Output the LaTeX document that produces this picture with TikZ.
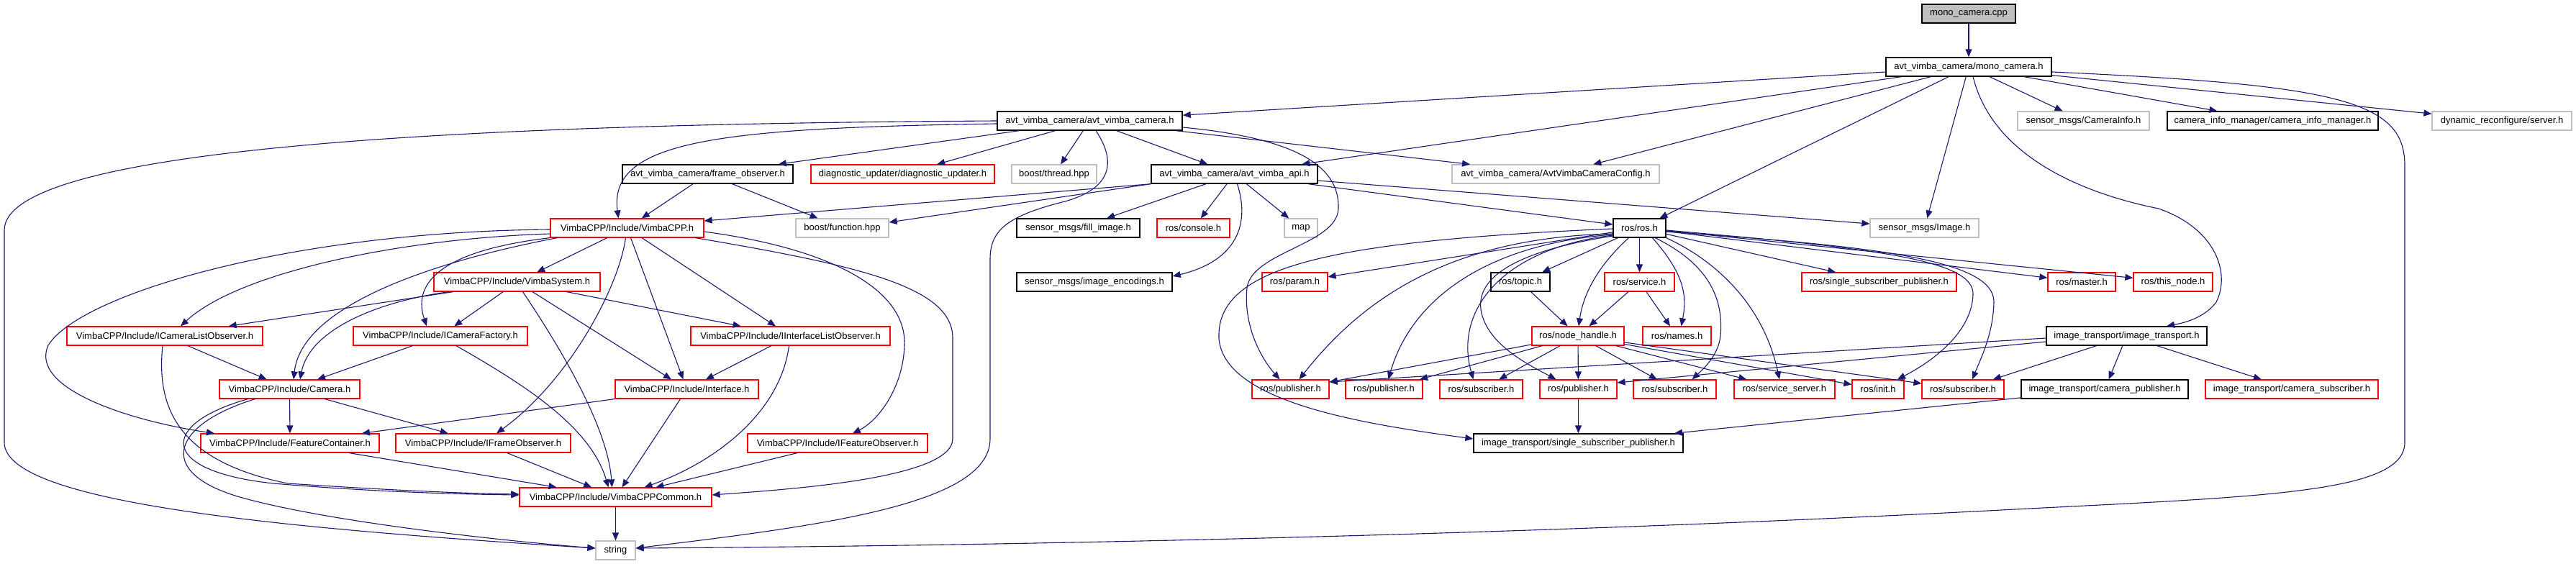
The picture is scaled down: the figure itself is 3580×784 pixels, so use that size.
\documentclass[tikz,border=0pt]{standalone}
\usepackage{fontspec}
\setmainfont{Liberation Sans}
\usetikzlibrary{arrows.meta}
\definecolor{edgec}{RGB}{25,25,112}
\definecolor{grayc}{RGB}{191,191,191}
\tikzset{
  box/.style={rectangle, minimum height=26pt, inner sep=0pt, line width=1.2pt, font=\fontsize{13}{15}\selectfont, text=black},
  bk/.style={box, draw=black, line width=1.4pt},
  rd/.style={box, draw=red},
  gr/.style={box, draw=grayc},
  e/.style={draw=edgec, line width=1.1pt, -{Triangle[length=11pt,width=9pt]}},
}
\begin{document}
\begin{tikzpicture}[x=1pt,y=-1pt]
\path[use as bounding box] (0,0) rectangle (3580,784);
% row 0-1
\node[bk, fill=grayc, minimum width=130pt] (mc) at (2736,19) {mono\_camera.cpp};
\node[bk, minimum width=230pt] (mch) at (2736,93) {avt\_vimba\_camera/mono\_camera.h};
% row 2
\node[bk, minimum width=257pt] (avc) at (1514.5,168) {avt\_vimba\_camera/avt\_vimba\_camera.h};
\node[gr, minimum width=183pt] (cinfo) at (2895.5,168) {sensor\_msgs/CameraInfo.h};
\node[bk, minimum width=293pt] (cim) at (3158.5,168) {camera\_info\_manager/camera\_info\_manager.h};
\node[gr, minimum width=194pt] (dyn) at (3477,168) {dynamic\_reconfigure/server.h};
% row 3
\node[bk, minimum width=237pt] (fo) at (983.5,242) {avt\_vimba\_camera/frame\_observer.h};
\node[rd, minimum width=255pt] (diag) at (1254.5,242) {diagnostic\_updater/diagnostic\_updater.h};
\node[gr, minimum width=118pt] (thr) at (1465,242) {boost/thread.hpp};
\node[bk, minimum width=231pt] (api) at (1715.5,242) {avt\_vimba\_camera/avt\_vimba\_api.h};
\node[gr, minimum width=288pt] (cfg) at (2162,242) {avt\_vimba\_camera/AvtVimbaCameraConfig.h};
% row 4
\node[rd, minimum width=213pt] (vcpp) at (871.5,317) {VimbaCPP/Include/VimbaCPP.h};
\node[gr, minimum width=129pt] (func) at (1170.5,317) {boost/function.hpp};
\node[bk, minimum width=171pt] (fill) at (1498.5,317) {sensor\_msgs/fill\_image.h};
\node[rd, minimum width=101pt] (cons) at (1658.5,317) {ros/console.h};
\node[gr, minimum width=46pt] (map) at (1808,317) {map};
\node[bk, minimum width=73pt] (ros) at (2278.5,317) {ros/ros.h};
\node[gr, minimum width=151pt] (img) at (2674.5,317) {sensor\_msgs/Image.h};
% row 5
\node[rd, minimum width=231pt] (vsys) at (718.5,392) {VimbaCPP/Include/VimbaSystem.h};
\node[bk, minimum width=216pt] (enc) at (1521,392) {sensor\_msgs/image\_encodings.h};
\node[rd, minimum width=91pt] (param) at (1799.5,392) {ros/param.h};
\node[bk, minimum width=82pt] (topic) at (2113,392) {ros/topic.h};
\node[rd, minimum width=97pt] (serv) at (2278.5,392) {ros/service.h};
\node[rd, minimum width=215pt] (rssp) at (2611.5,392) {ros/single\_subscriber\_publisher.h};
\node[rd, minimum width=94pt] (master) at (2893,392) {ros/master.h};
\node[rd, minimum width=110pt] (thisn) at (3020,392) {ros/this\_node.h};
% row 6
\node[rd, minimum width=272pt] (iclo) at (229,467) {VimbaCPP/Include/ICameraListObserver.h};
\node[rd, minimum width=242pt] (icf) at (612,467) {VimbaCPP/Include/ICameraFactory.h};
\node[rd, minimum width=277pt] (iilo) at (1098.5,467) {VimbaCPP/Include/IInterfaceListObserver.h};
\node[rd, minimum width=128pt] (nh) at (2193,467) {ros/node\_handle.h};
\node[rd, minimum width=95pt] (names) at (2330.5,467) {ros/names.h};
\node[bk, minimum width=223pt] (it) at (2955.5,467) {image\_transport/image\_transport.h};
% row 7
\node[rd, minimum width=195pt] (cam) at (402.5,541) {VimbaCPP/Include/Camera.h};
\node[rd, minimum width=199pt] (iface) at (954.5,541) {VimbaCPP/Include/Interface.h};
\node[rd, minimum width=107pt] (pub1) at (1793.5,541) {ros/publisher.h};
\node[rd, minimum width=107pt] (pub2) at (1923.5,541) {ros/publisher.h};
\node[rd, minimum width=115pt] (sub1) at (2058.5,541) {ros/subscriber.h};
\node[rd, minimum width=107pt] (pub3) at (2193.5,541) {ros/publisher.h};
\node[rd, minimum width=115pt] (sub2) at (2327.5,541) {ros/subscriber.h};
\node[rd, minimum width=140pt] (ssrv) at (2480,541) {ros/service\_server.h};
\node[rd, minimum width=72pt] (init) at (2610,541) {ros/init.h};
\node[rd, minimum width=114pt] (sub3) at (2728,541) {ros/subscriber.h};
\node[bk, minimum width=232pt] (cpub) at (2925,541) {image\_transport/camera\_publisher.h};
\node[rd, minimum width=240pt] (csub) at (3185,541) {image\_transport/camera\_subscriber.h};
% row 8
\node[rd, minimum width=248pt] (fc) at (403,616) {VimbaCPP/Include/FeatureContainer.h};
\node[rd, minimum width=243pt] (ifo) at (671.5,616) {VimbaCPP/Include/IFrameObserver.h};
\node[rd, minimum width=250pt] (ifeo) at (1164,616) {VimbaCPP/Include/IFeatureObserver.h};
\node[bk, minimum width=291pt] (issp) at (2193.5,616) {image\_transport/single\_subscriber\_publisher.h};
% row 9-10
\node[rd, minimum width=267pt] (vcc) at (855.5,691) {VimbaCPP/Include/VimbaCPPCommon.h};
\node[gr, minimum width=55pt] (str) at (855.5,765) {string};

% ---- edges: mono_camera
\draw[e] (mc) -- (mch);
\draw[e] (mch) -- (avc);
\draw[e] (mch) -- (api);
\draw[e] (mch) -- (cfg);
\draw[e] (mch) -- (ros);
\draw[e] (mch) -- (img);
\draw[e] (mch) -- (cinfo);
\draw[e] (mch) -- (cim);
\draw[e] (mch) -- (dyn);
\draw[e] ([yshift=-7pt]mch.east) .. controls (3250,118) and (3342,140) .. (3342,230) -- (3342,615) .. controls (3342,685) and (3150,690) .. (2800,708) .. controls (2200,740) and (1500,758) .. ([yshift=3pt]str.east);
\draw[e] ([xshift=6pt]mch.south) .. controls (2770,220) and (2900,270) .. (3000,290) .. controls (3080,318) and (3100,380) .. (3080,420) .. controls (3065,440) and (3040,448) .. ([xshift=55.5pt]it.north);
% ---- avt_vimba_camera.h
\draw[e] (avc) -- (fo);
\draw[e] (avc) -- (diag);
\draw[e] (avc) -- (thr);
\draw[e] (avc) -- (api);
\draw[e] (avc) -- (cfg);
\draw[e] (avc.west) .. controls (700,172) and (6,200) .. (6,320) -- (6,615) .. controls (6,700) and (400,735) .. ([yshift=3pt]str.west);
\draw[e] ([yshift=-4pt]avc.west) .. controls (1000,178) and (845,195) .. ([xshift=-12pt]vcpp.north);
\draw[e] ([xshift=8.5pt]avc.south) .. controls (1552,225) and (1545,262) .. (1480,280) .. controls (1400,300) and (1376,320) .. (1376,360) -- (1376,610) .. controls (1376,700) and (1150,730) .. ([yshift=3pt]str.east);
\draw[e] ([yshift=-9pt]avc.east) .. controls (1800,192) and (1862,230) .. (1860,290) .. controls (1858,340) and (1740,350) .. (1733,400) .. controls (1728,450) and (1750,495) .. ([xshift=-15pt]pub1.north);
% ---- avt_vimba_api.h
\draw[e] (api.south west) -- ([yshift=10pt]vcpp.east);
\draw[e] (api.south west) -- ([yshift=8pt]func.east);
\draw[e] (api) -- (fill);
\draw[e] (api) -- (cons);
\draw[e] (api) -- (map);
\draw[e] ([xshift=4pt]api.south) .. controls (1740,320) and (1710,365) .. ([yshift=8pt]enc.east);
\draw[e] (api) -- (ros);
\draw[e] (api) -- (img);
% ---- frame_observer.h
\draw[e] (fo) -- (vcpp);
\draw[e] (fo) -- (func);
% ---- VimbaCPP.h
\draw[e] (vcpp) -- (vsys);
\draw[e] ([yshift=-2pt]vcpp.west) .. controls (400,322) and (110,410) .. (67,480) .. controls (40,540) and (180,585) .. ([xshift=-105pt]fc.north);
\draw[e] ([yshift=-8pt]vcpp.west) .. controls (550,332) and (330,380) .. ([xshift=22pt]iclo.north);
\draw[e] ([xshift=10pt]vcpp.south west) .. controls (620,360) and (420,420) .. ([xshift=5.5pt]cam.north);
\draw[e] (vcpp.south west) .. controls (600,350) and (575,400) .. ([xshift=-19pt]icf.north);
\draw[e] (vcpp) -- (iface);
\draw[e] (vcpp) -- (iilo);
\draw[e] ([xshift=-2pt]vcpp.south) .. controls (860,400) and (790,530) .. ([xshift=18.5pt]ifo.north);
\draw[e] ([yshift=-5pt]vcpp.east) .. controls (1150,345) and (1260,400) .. (1257,480) .. controls (1255,540) and (1220,585) .. ([xshift=21pt]ifeo.north);
\draw[e] ([xshift=95pt]vcpp.south) .. controls (1200,370) and (1324,400) .. (1324,470) -- (1324,610) .. controls (1324,665) and (1100,680) .. ([yshift=3pt]vcc.east);
% ---- VimbaSystem.h
\draw[e] (vsys) -- (iclo);
\draw[e] ([xshift=-95pt]vsys.south) .. controls (520,420) and (430,460) .. ([xshift=14.5pt]cam.north);
\draw[e] (vsys) -- (icf);
\draw[e] (vsys) -- (iface);
\draw[e] (vsys) -- (iilo);
\draw[e] ([xshift=8pt]vsys.south) .. controls (790,500) and (845,600) .. ([xshift=-5pt]vcc.north);
% ---- ICameraListObserver, ICameraFactory, IInterfaceListObserver
\draw[e] (iclo) -- (cam);
\draw[e] ([xshift=-3pt]iclo.south) .. controls (218,560) and (240,640) .. (400,672) .. controls (550,682) and (650,686) .. ([yshift=4pt]vcc.west);
\draw[e] (icf) -- (cam);
\draw[e] ([xshift=22pt]icf.south) .. controls (720,530) and (820,590) .. ([xshift=-10pt]vcc.north);
\draw[e] (iilo) -- (iface);
\draw[e] ([xshift=-2pt]iilo.south) .. controls (1085,570) and (1000,640) .. ([xshift=40pt]vcc.north);
% ---- Camera.h, Interface.h
\draw[e] (cam) -- (fc);
\draw[e] (cam) -- (ifo);
\draw[e] ([xshift=-58pt]cam.south) .. controls (220,590) and (220,655) .. (380,672) .. controls (520,684) and (640,687) .. ([yshift=3pt]vcc.west);
\draw[e] ([xshift=-48pt]cam.south) .. controls (240,590) and (215,655) .. (330,690) .. controls (450,725) and (700,752) .. ([yshift=3pt]str.west);
\draw[e] (iface) -- (vcc);
\draw[e] (iface) -- (fc);
\draw[e] (fc) -- (vcc);
\draw[e] (ifo) -- (vcc);
\draw[e] (ifeo) -- (vcc);
\draw[e] (vcc) -- (str);
% ---- ros.h
\draw[e] (ros) -- (param);
\draw[e] (ros) -- (topic);
\draw[e] (ros) -- (serv);
\draw[e] (ros) -- (rssp);
\draw[e] (ros) -- (master);
\draw[e] (ros) -- (thisn);
\draw[e] ([yshift=-8pt]ros.west) .. controls (2010,330) and (1890,420) .. ([xshift=12pt]pub1.north);
\draw[e] ([yshift=-9pt]ros.west) .. controls (2060,340) and (1960,420) .. ([xshift=6pt]pub2.north);
\draw[e] ([yshift=-10pt]ros.west) .. controls (2090,345) and (2020,430) .. ([xshift=-11pt]sub1.north);
\draw[e] ([yshift=-11pt]ros.west) .. controls (2100,350) and (2040,390) .. (2062,445) .. controls (2078,485) and (2130,510) .. ([xshift=-31pt]pub3.north);
\draw[e] ([xshift=-15pt]ros.south) .. controls (2220,370) and (2200,410) .. ([xshift=1pt]nh.north);
\draw[e] ([xshift=18pt]ros.south) .. controls (2340,380) and (2345,410) .. ([xshift=6pt]names.north);
\draw[e] ([xshift=22pt]ros.south) .. controls (2380,370) and (2395,420) .. (2391,467) .. controls (2388,495) and (2365,515) .. ([xshift=24pt]sub2.north);
\draw[e] (ros.south east) .. controls (2380,360) and (2450,420) .. ([xshift=-7pt]ssrv.north);
\draw[e] ([yshift=-3pt]ros.east) .. controls (2600,345) and (2745,360) .. (2742,410) .. controls (2740,460) and (2690,500) .. ([xshift=27pt]init.north);
\draw[e] ([yshift=-5pt]ros.east) .. controls (2600,342) and (2772,360) .. (2771,420) .. controls (2770,465) and (2752,500) .. ([xshift=13pt]sub3.north);
\draw[e] ([yshift=-1pt]ros.west) .. controls (1850,335) and (1690,370) .. (1694,470) .. controls (1700,560) and (1900,590) .. ([yshift=6pt]issp.west);
% ---- topic, service, node_handle
\draw[e] (topic) -- (nh);
\draw[e] (serv) -- (nh);
\draw[e] (serv) -- (names);
\draw[e] (nh) -- (pub1);
\draw[e] (nh) -- (pub2);
\draw[e] (nh) -- (sub1);
\draw[e] (nh) -- (pub3);
\draw[e] (nh) -- (sub2);
\draw[e] (nh) -- (ssrv);
\draw[e] (nh) -- (init);
\draw[e] (nh) -- (sub3);
% ---- image_transport
\draw[e] ([yshift=-3pt]it.west) -- ([yshift=10pt]pub1.east);
\draw[e] ([yshift=-8pt]it.west) -- ([yshift=9pt]pub3.east);
\draw[e] (it) -- (sub3);
\draw[e] (it) -- (cpub);
\draw[e] (it) -- (csub);
\draw[e] (cpub) -- (issp);
\draw[e] (pub3) -- (issp);
\end{tikzpicture}
\end{document}
